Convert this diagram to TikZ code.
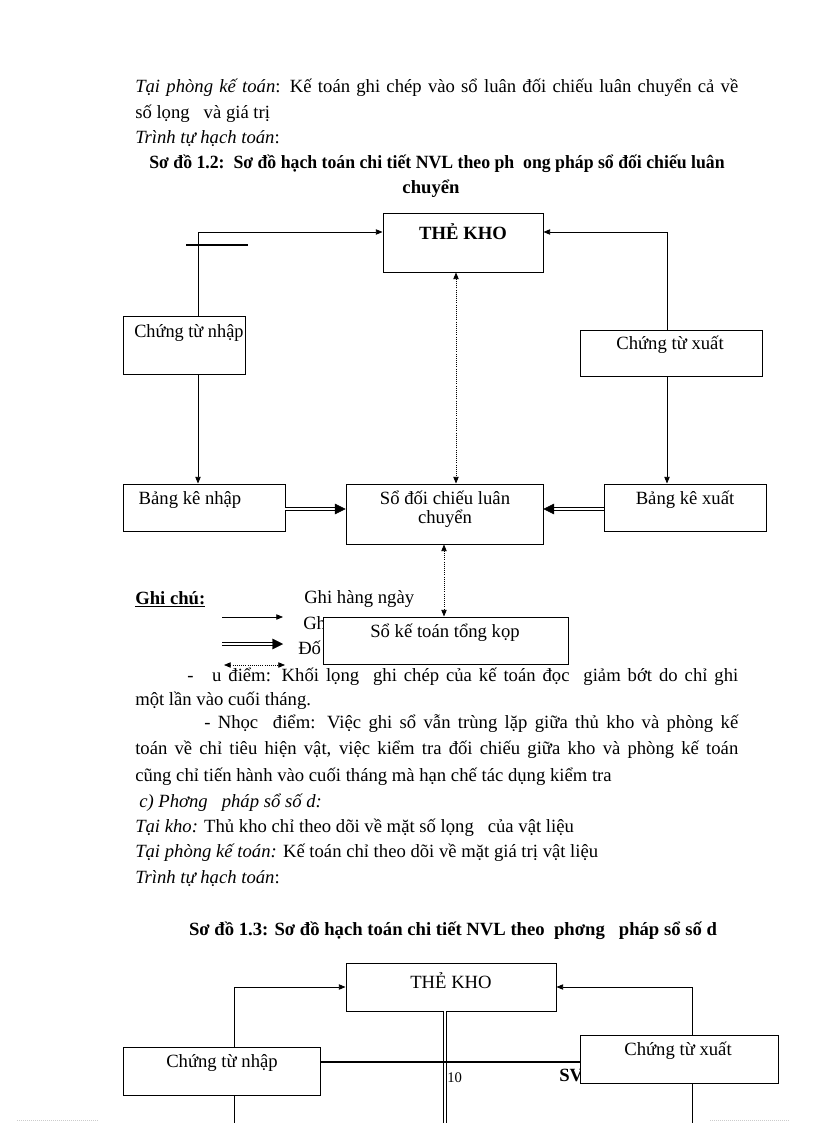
\documentclass[tikz,border=0pt]{standalone}
\usepackage{fontspec}
\setmainfont{Liberation Serif}
\usetikzlibrary{arrows.meta}
\begin{document}
\begin{tikzpicture}[x=0.75pt,y=-0.75pt,
  every node/.style={inner sep=0pt},
  txt/.style={font=\fontsize{14}{16}\selectfont},
  ttl/.style={font=\bfseries\fontsize{14}{16}\selectfont},
  box/.style={draw,line width=0.7pt,fill=white},
  arr/.style={line width=0.6pt,-{Triangle[length=5pt,width=4pt]}},
  darr/.style={line width=0.6pt,densely dotted,{Triangle[length=5pt,width=4pt]}-{Triangle[length=5pt,width=4pt]}},
  dblshaft/.style={double,double distance=1pt,line width=0.7pt,shorten >=6pt},
  dblhead/.style={draw=white,line width=0.3pt,-{Triangle[length=8pt,width=8pt,color=black]}},
  dblline/.style={double,double distance=1pt,line width=0.75pt},
  heavy/.style={line width=2.2pt},
  stray/.style={line width=1.3pt},
]
\useasboundingbox (0,0) rectangle (816,1123);

% ---- top text ----
\node[txt,anchor=base west] (l1) at (135,93) {\hbox to 452.25pt{\textit{Tại phòng kế toán}: Kế toán ghi chép vào sổ luân đối chiếu luân chuyển cả về}};
\node[txt,anchor=base west] (l2) at (135,119) {số lọng\ \ \ và giá trị};
\node[txt,anchor=base west] (l3) at (135,144) {\textit{Trình tự hạch toán}:};
\node[ttl,anchor=base] (t1) at (437,169) {\scalebox{0.95}[1]{Sơ đồ 1.2:\ \ Sơ đồ hạch toán chi tiết NVL theo ph\ \ ong pháp sổ đối chiếu luân}};
\node[ttl,anchor=base] (t1b) at (431,194) {chuyển};

% ---- diagram 1 boxes ----
\node[box,minimum width=120pt,minimum height=44.25pt] (tk1) at (463,242.5) {};
\node[txt,font=\bfseries\fontsize{14}{16}\selectfont] (tk1t) at (463,232) {THẺ KHO};
\node[box,minimum width=91.5pt,minimum height=43.5pt] (cn1) at (184,345) {};
\node[txt,anchor=west] (cn1t) at (134,333) {\scalebox{0.98}[1]{Chứng từ nhập}};
\node[box,minimum width=136.5pt,minimum height=34.5pt] (cx1) at (671,353) {};
\node[txt] (cx1t) at (670,345) {Chứng từ xuất};
\node[box,minimum width=121.5pt,minimum height=35.25pt] (bn1) at (204,507.5) {};
\node[txt] (bn1t) at (190,500) {Bảng kê nhập};
\node[box,minimum width=147.75pt,minimum height=45pt] (sd1) at (444.5,514) {};
\node[txt,align=center] (sd1t) at (445,509) {Sổ đối chiếu luân\\[-2pt]chuyển};
\node[box,minimum width=121.5pt,minimum height=35.25pt] (bx1) at (685,507.5) {};
\node[txt] (bx1t) at (685,500) {Bảng kê xuất};

% ---- diagram 1 connectors ----
\coordinate (c1) at (198,232);
\coordinate (c2) at (667,232);
\coordinate (c3) at (456,0);
\coordinate (c4) at (444,0);
\coordinate (c5) at (0,509);
\draw[arr] (cn1.north -| c1) -- (c1) -- (tk1.west |- c1);
\draw[arr] (cx1.north -| c2) -- (c2) -- (tk1.east |- c2);
\draw[arr] (cn1.south -| c1) -- (bn1.north -| c1);
\draw[arr] (cx1.south -| c2) -- (bx1.north -| c2);
\draw[darr] (tk1.south -| c3) -- (sd1.north -| c3);
\draw[dblshaft] (bn1.east |- c5) -- (sd1.west |- c5);
\draw[dblhead] (bn1.east |- c5) -- (sd1.west |- c5);
\draw[dblshaft] (bx1.west |- c5) -- (sd1.east |- c5);
\draw[dblhead] (bx1.west |- c5) -- (sd1.east |- c5);
\coordinate (s1) at (186,245);
\coordinate (s2) at (248,245);
\draw[stray] (s1) -- (s2);

% ---- legend ----
\node[txt,anchor=west,font=\bfseries\fontsize{14}{16}\selectfont] (gc) at (135,599) {\underline{Ghi chú:}};
\node[txt,anchor=west] (g1) at (304,599) {Ghi hàng ngày};
\node[txt,anchor=west] (g2) at (303,623) {Gh};
\node[txt,anchor=west] (g3) at (298,648) {Đố};
\coordinate (la1) at (222,617); \coordinate (lb1) at (283,617);
\coordinate (la2) at (222,644); \coordinate (lb2) at (283,644);
\coordinate (la3) at (224,665); \coordinate (lb3) at (285,665);
\draw[arr] (la1) -- (lb1);
\draw[dblshaft] (la2) -- (lb2);
\draw[dblhead] (la2) -- (lb2);
\draw[darr] (la3) -- (lb3);

\node[box,minimum width=183.75pt,minimum height=35.25pt] (sk1) at (445.5,640.5) {};
\node[txt] (sk1t) at (445,633) {Sổ kế toán tổng kọp};
\draw[darr] (sd1.south -| c4) -- (sk1.north -| c4);

% ---- paragraphs ----
\node[txt,anchor=base west] (p1) at (187,681) {\hbox to 413.25pt{-\hspace{14pt}u điểm: Khối lọng\ \ ghi chép của kế toán đọc\ \ giảm bớt do chỉ ghi}};
\node[txt,anchor=base west] (p2) at (135,705) {một lần vào cuối tháng.};
\node[txt,anchor=base west] (p3) at (204,728) {\hbox to 400.5pt{- Nhọc\ \ điểm: Việc ghi sổ vẫn trùng lặp giữa thủ kho và phòng kế}};
\node[txt,anchor=base west] (p4) at (135,754) {\hbox to 452.25pt{toán về chỉ tiêu hiện vật, việc kiểm tra đối chiếu giữa kho và phòng kế toán}};
\node[txt,anchor=base west] (p5) at (135,781) {cũng chỉ tiến hành vào cuối tháng mà hạn chế tác dụng kiểm tra};
\node[txt,anchor=base west] (p6) at (139,807) {\textit{c) Phơng\ \ \ pháp sổ số d:}};
\node[txt,anchor=base west] (p7) at (135,832) {\textit{Tại kho:} Thủ kho chỉ theo dõi về mặt số lọng\ \ \ của vật liệu};
\node[txt,anchor=base west] (p8) at (135,857) {\textit{Tại phòng kế toán:} Kế toán chỉ theo dõi về mặt giá trị vật liệu};
\node[txt,anchor=base west] (p9) at (135,883) {\textit{Trình tự hạch toán}:};
\node[ttl,anchor=base] (t2) at (453,935) {Sơ đồ 1.3: Sơ đồ hạch toán chi tiết NVL theo\ \ phơng\ \ \ pháp sổ số d};

% ---- diagram 2 ----
\coordinate (d1) at (234,987);
\coordinate (d2) at (692,987);
\coordinate (d3) at (445,1123);
\coordinate (d5) at (0,1123);
\node[txt,anchor=base west,font=\bfseries\fontsize{14}{16}\selectfont] (sv) at (559,1081) {SV};
\node[box,minimum width=157.5pt,minimum height=36pt] (tk2) at (451,987) {};
\node[txt] (tk2t) at (451,981) {THẺ KHO};
\draw[dblline] (tk2.south -| d3) -- (d3);
\node[box,minimum width=147.75pt,minimum height=36pt] (cn2) at (221.5,1071) {};
\node[txt] (cn2t) at (222,1063) {Chứng từ nhập};
\node[box,minimum width=148.5pt,minimum height=36pt] (cx2) at (679,1059) {};
\node[txt] (cx2t) at (678,1051) {Chứng từ xuất};
\coordinate (d4) at (0,1062);
\draw[heavy] (cn2.east |- d4) -- (cx2.west |- d4);
\node[anchor=west,font=\fontsize{11}{12}\selectfont] (pg) at (447,1078) {10};
\draw[arr] (cn2.north -| d1) -- (d1) -- (tk2.west |- d1);
\draw[arr] (cx2.north -| d2) -- (d2) -- (tk2.east |- d2);
\draw[line width=0.6pt] (cn2.south -| d1) -- (d1 |- d5);
\draw[line width=0.6pt] (cx2.south -| d2) -- (d2 |- d5);
\draw[gray!40,densely dotted,line width=0.5pt] (17,1120) -- (98,1120);
\draw[gray!40,densely dotted,line width=0.5pt] (710,1120) -- (790,1120);
\end{tikzpicture}
\end{document}
